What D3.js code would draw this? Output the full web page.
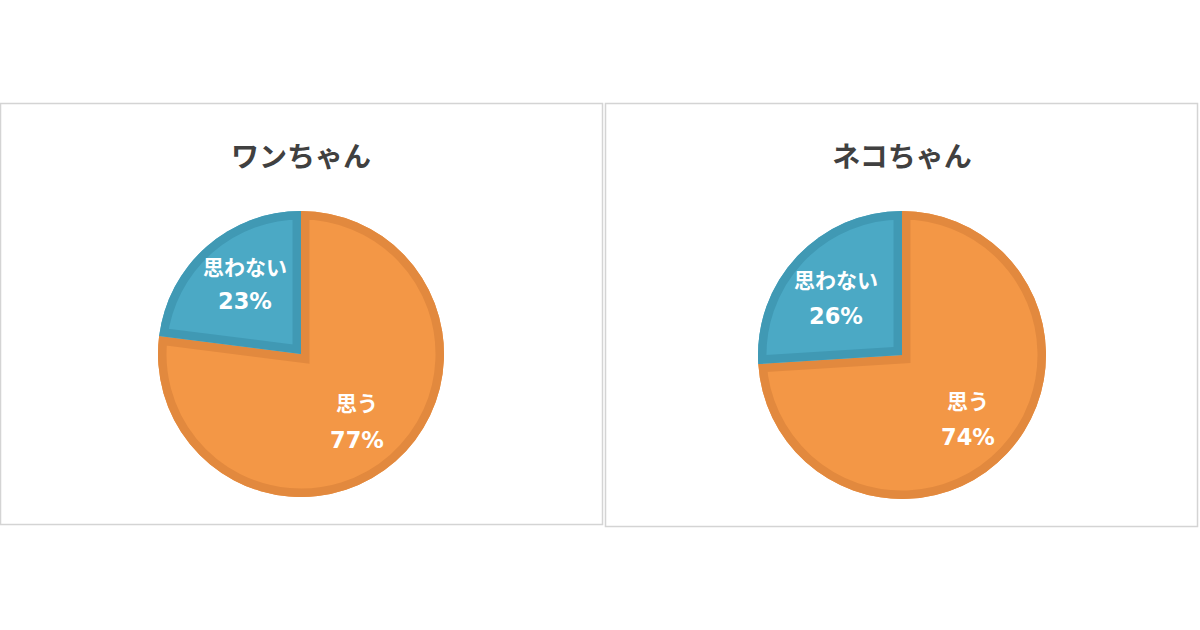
<!DOCTYPE html>
<html>
<head>
<meta charset="utf-8">
<script src="https://cdn.jsdelivr.net/npm/d3@7"></script>
<style>
  html, body { margin: 0; padding: 0; background: #ffffff; }
  svg { display: block; }
  text { font-family: "Noto Sans CJK JP", "Noto Sans", sans-serif; }
  text.pct { font-family: "DejaVu Sans", "Noto Sans", sans-serif; }
</style>
</head>
<body>
<svg id="chart" width="1200" height="630"></svg>
<script>
// Survey answers per pet
const panelTitles = ["ワンちゃん", "ネコちゃん"];
const answerLabels = ["思う", "思わない"];
const dogValues = [77, 23];
const catValues = [74, 26];

const fills = ["#F39746", "#4BA9C5"];
const edges = ["#E2893E", "#4099B4"];

const svg = d3.select("#chart");

const panels = [
  { title: panelTitles[0], values: dogValues, x: 0.5, y: 103.5, w: 602, h: 421, cx: 301, cy: 354, r: 143,
    labelPos: [[357, 402, 440], [245, 266, 301]] },
  { title: panelTitles[1], values: catValues, x: 605.5, y: 103.5, w: 592, h: 423, cx: 902, cy: 355, r: 144,
    labelPos: [[968, 400, 437], [836, 279, 316]] }
];

const pie = d3.pie().sort(null).value(d => d);

panels.forEach((p, pi) => {
  const g = svg.append("g");

  // panel frame
  g.append("rect")
    .attr("x", p.x).attr("y", p.y)
    .attr("width", p.w).attr("height", p.h)
    .attr("fill", "#ffffff")
    .attr("stroke", "#d4d4d4")
    .attr("stroke-width", 1.5);

  // title
  g.append("text")
    .attr("x", p.cx).attr("y", 155)
    .attr("text-anchor", "middle")
    .attr("dominant-baseline", "central")
    .attr("font-size", 28)
    .attr("font-weight", 700)
    .attr("fill", "#404040")
    .text(p.title);

  const arc = d3.arc().innerRadius(0).outerRadius(p.r);
  const arcs = pie(p.values);
  const pg = g.append("g").attr("transform", `translate(${p.cx},${p.cy})`);

  arcs.forEach((a, i) => {
    const id = `clip-${pi}-${i}`;
    const d = arc(a);
    pg.append("clipPath").attr("id", id).append("path").attr("d", d);
    pg.append("path")
      .attr("d", d)
      .attr("fill", fills[i]);
    // inner darker rim of each slice
    pg.append("path")
      .attr("d", d)
      .attr("fill", "none")
      .attr("stroke", edges[i])
      .attr("stroke-width", 17)
      .attr("stroke-linejoin", "miter")
      .attr("clip-path", `url(#${id})`);
  });

  // data labels
  arcs.forEach((a, i) => {
    const [lx, ly1, ly2] = p.labelPos[i];
    g.append("text")
      .attr("x", lx).attr("y", ly1)
      .attr("text-anchor", "middle")
      .attr("dominant-baseline", "central")
      .attr("font-size", 21)
      .attr("font-weight", 700)
      .attr("fill", "#ffffff")
      .text(answerLabels[i]);
    g.append("text")
      .attr("class", "pct")
      .attr("x", lx).attr("y", ly2)
      .attr("text-anchor", "middle")
      .attr("dominant-baseline", "central")
      .attr("font-size", 22.5)
      .attr("font-weight", 700)
      .attr("fill", "#ffffff")
      .text(a.data + "%");
  });
});
</script>
</body>
</html>
